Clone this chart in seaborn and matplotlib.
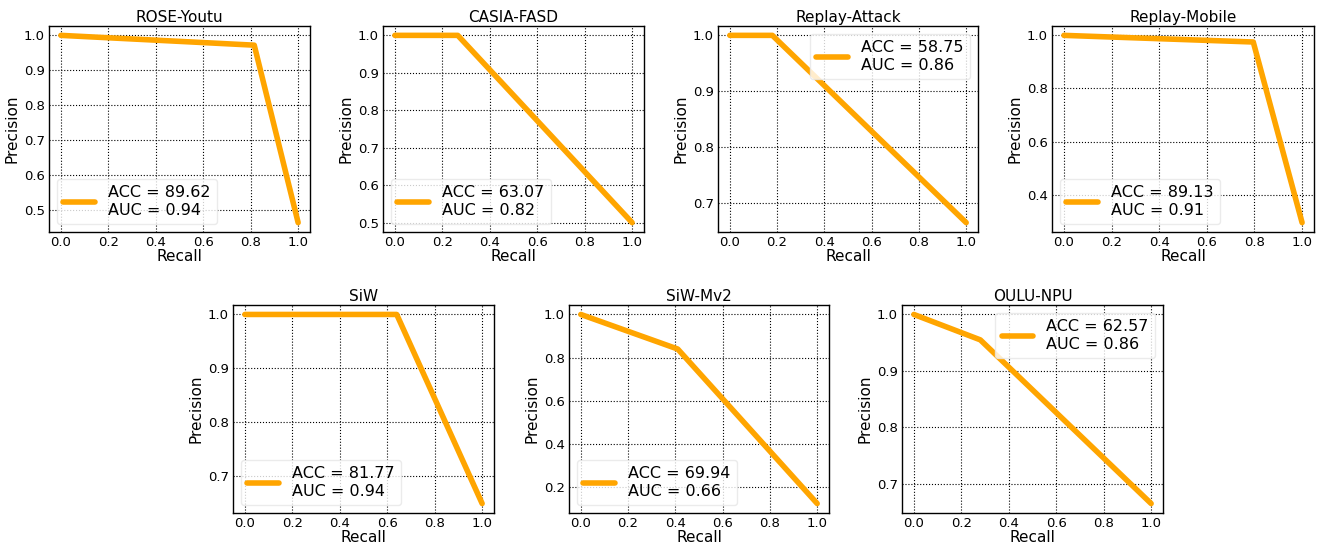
import numpy as np
import pandas as pd
import matplotlib
matplotlib.use("Agg")
import matplotlib.pyplot as plt
import seaborn as sns

# Datasets and their precision-recall curves
datasets = ["ROSE-Youtu", "CASIA-FASD", "Replay-Attack", "Replay-Mobile",
            "SiW", "SiW-Mv2", "OULU-NPU"]
recall = [
    [0.0, 0.815, 1.0],
    [0.0, 0.265, 1.0],
    [0.0, 0.18, 1.0],
    [0.0, 0.795, 1.0],
    [0.0, 0.64, 1.0],
    [0.0, 0.41, 1.0],
    [0.0, 0.28, 1.0],
]
precision = [
    [1.0, 0.972, 0.465],
    [1.0, 1.0, 0.5],
    [1.0, 1.0, 0.665],
    [1.0, 0.975, 0.295],
    [1.0, 1.0, 0.648],
    [1.0, 0.84, 0.125],
    [1.0, 0.955, 0.665],
]
acc = [89.62, 63.07, 58.75, 89.13, 81.77, 69.94, 62.57]
auc = [0.94, 0.82, 0.86, 0.91, 0.94, 0.66, 0.86]
legend_loc = ["lower left", "lower left", "upper right", "lower left",
              "lower left", "lower left", "upper right"]

sns.set_style("white")
plt.rcParams["font.family"] = ["DejaVu Sans"]
plt.rcParams.update({"text.color": "black", "axes.labelcolor": "black",
                     "xtick.color": "black", "ytick.color": "black"})

W, H = 1324, 549
fig = plt.figure(figsize=(W / 100, H / 100), dpi=100)

# axes boxes in pixels: left, top, right, bottom
boxes = [
    (49, 26, 310, 232),
    (383, 26, 644, 232),
    (718, 26, 978, 232),
    (1052, 26, 1314, 232),
    (233, 305, 494, 513),
    (569, 305, 829, 513),
    (902, 305, 1163, 513),
]

for i, name in enumerate(datasets):
    l, t, r, b = boxes[i]
    ax = fig.add_axes([l / W, 1 - b / H, (r - l) / W, (b - t) / H])
    df = pd.DataFrame({"Recall": recall[i], "Precision": precision[i]})
    sns.lineplot(data=df, x="Recall", y="Precision", ax=ax, color="#FFA500",
                 linewidth=4, label=f"ACC = {acc[i]:.2f}\nAUC = {auc[i]:.2f}",
                 sort=False)
    ax.grid(True, color="black", linestyle=":", linewidth=0.8)
    ax.set_xticks(np.arange(0, 1.01, 0.2))
    ax.tick_params(axis="both", labelsize=9.5, length=0, pad=3)
    ax.set_title(name, fontsize=11, pad=3)
    ax.set_xlabel("Recall", fontsize=11, labelpad=0)
    ax.set_ylabel("Precision", fontsize=11, labelpad=3)
    for s in ax.spines.values():
        s.set_color("black")
        s.set_linewidth(1)
    ax.legend(loc=legend_loc[i], fontsize=11.5, frameon=True, framealpha=0.8,
              edgecolor="0.9")

fig.savefig("out.png", dpi=100)
